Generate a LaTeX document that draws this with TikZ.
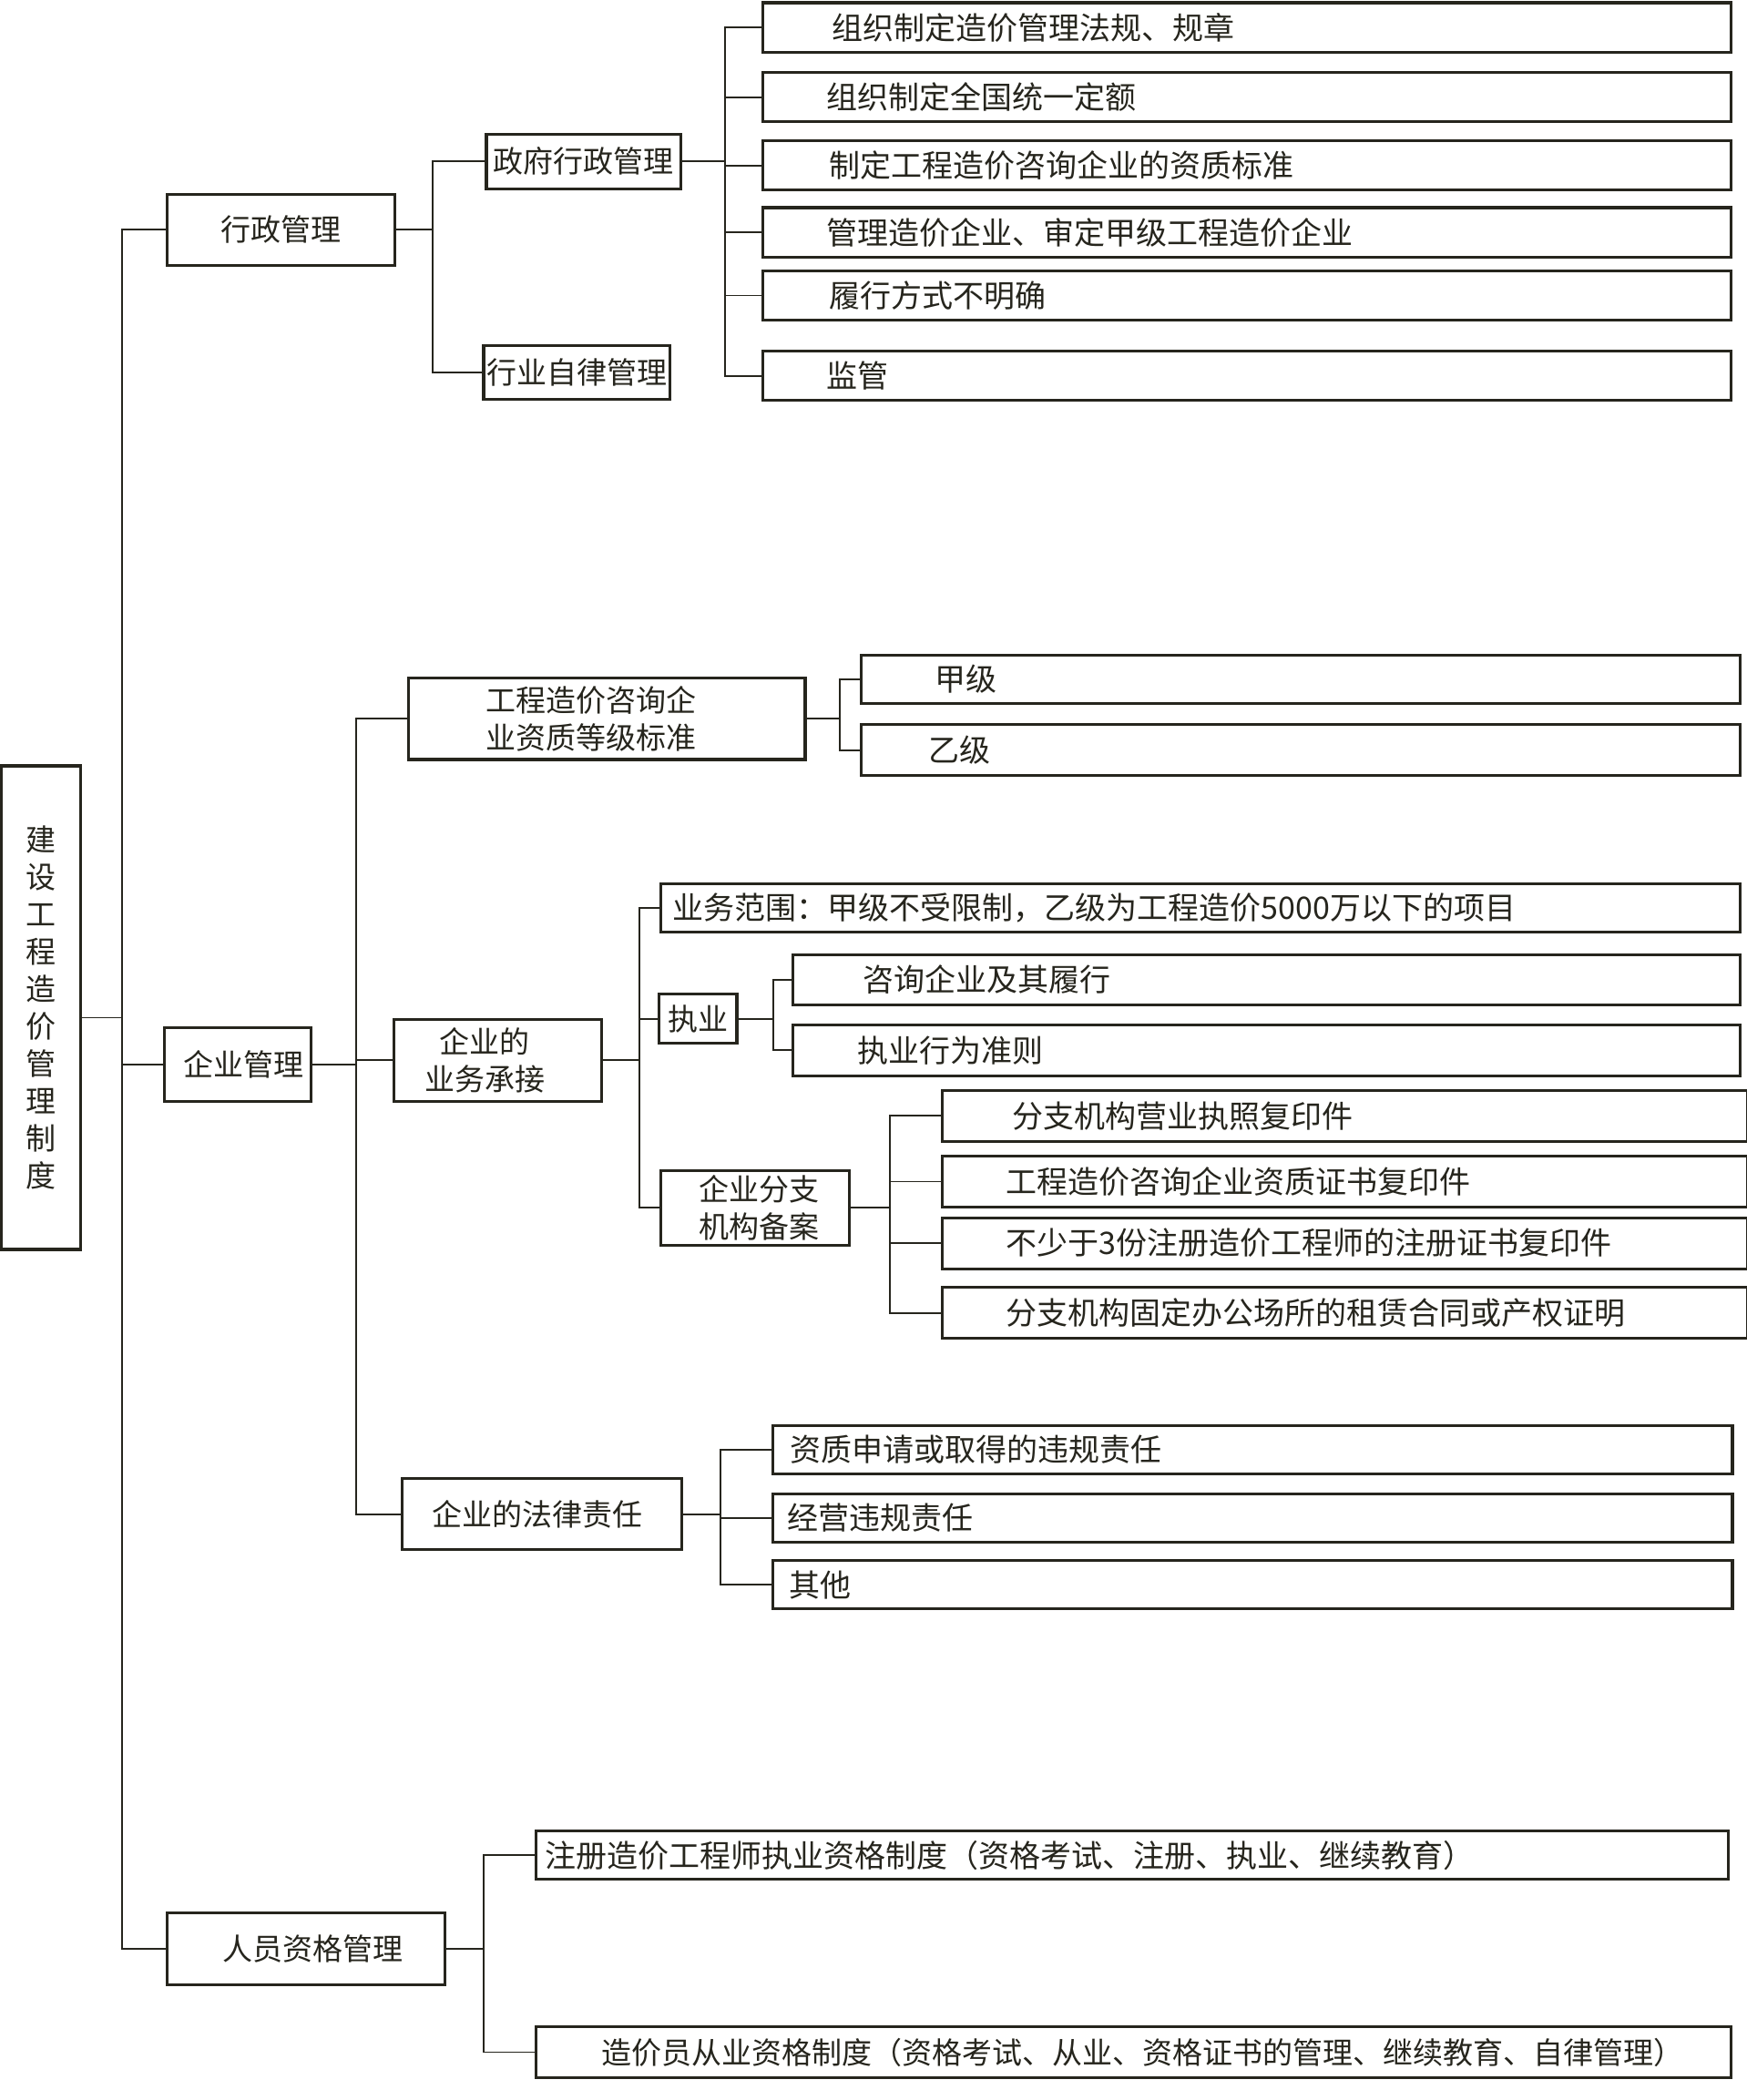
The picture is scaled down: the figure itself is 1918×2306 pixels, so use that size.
\documentclass[tikz,border=0pt]{standalone}
\usepackage{fontspec}
\setmainfont{Noto Sans CJK SC}
\definecolor{ink}{HTML}{26251D}
\tikzset{
  box/.style={draw=ink, line width=3.1pt, text=ink, inner xsep=0pt, inner ysep=0pt,
              font=\fontsize{33}{41}\selectfont},
  leaffont/.style={font=\fontsize{34}{41}\selectfont},
  conn/.style={draw=ink, line width=1.8pt},
}
% left-aligned box: [font style] name, x1, y1, x2, y2, text-start x, text
\newcommand\lbox[8][leaffont]{%
  \pgfmathsetmacro\bxw{#5-#3}\pgfmathsetmacro\bxh{#6-#4}\pgfmathsetmacro\bxp{#7-#3}%
  \node[box, #1, anchor=north west, minimum width=\bxw pt, minimum height=\bxh pt] (#2) at (#3,#4)
    {\makebox[\bxw pt][l]{\hspace*{\bxp pt}#8}};}
% centred box: [x offset of text] name, x1, y1, x2, y2, text
\newcommand\cbox[7][0]{%
  \pgfmathsetmacro\bxw{#5-#3}\pgfmathsetmacro\bxh{#6-#4}%
  \pgfmathsetmacro\bxcx{(#3+#5)/2}\pgfmathsetmacro\bxcy{(#4+#6)/2}\pgfmathsetmacro\bxs{2*#1}%
  \node[box, minimum width=\bxw pt, minimum height=\bxh pt] (#2) at (\bxcx,\bxcy)
    {\makebox[\bxw pt]{\hspace*{\bxs pt}\raisebox{-4.3pt}[\height][\depth]{\begin{tabular}{@{}c@{}}#7\end{tabular}}}};}
\begin{document}
\begin{tikzpicture}[x=1pt,y=-1pt]
\fill[white] (0,0) rectangle (1918,2306);
\useasboundingbox (0,0) rectangle (1918,2306);

% root
\cbox{root}{1.5}{841}{88.3}{1372}{建\\设\\工\\程\\造\\价\\管\\理\\制\\度}

% level 1
\cbox{xz}{183.9}{213.3}{433.9}{291.2}{行政管理}
\cbox[6]{qy}{180.9}{1128.2}{341.2}{1209.1}{企业管理}
\cbox[7]{ry}{183.9}{2100.4}{488.3}{2179.9}{人员资格管理}

% under 行政管理
\cbox{zf}{534}{147.1}{747.2}{207.4}{政府行政管理}
\cbox{hy}{531}{379.5}{735.4}{438.3}{行业自律管理}
\lbox{g1}{835.5}{1.5}{1898.9}{55.9}{912}{组织制定造价管理法规、规章}
\lbox{g2}{835.5}{78}{1898.9}{132.4}{906}{组织制定全国统一定额}
\lbox{g3}{835.5}{153}{1898.9}{207.4}{909}{制定工程造价咨询企业的资质标准}
\lbox{g4}{835.5}{226.5}{1898.9}{280.9}{906}{管理造价企业、审定甲级工程造价企业}
\lbox{g5}{835.5}{295.7}{1898.9}{350.1}{909}{履行方式不明确}
\lbox{g6}{835.5}{383.9}{1898.9}{438.3}{906}{监管}

% under 企业管理
\cbox[-17]{zz}{448.6}{744.3}{884}{834}{工程造价咨询企\\业资质等级标准}
\lbox{jj}{944.3}{717.8}{1909.2}{770.7}{1025}{甲级}
\lbox{yj}{944.3}{794.3}{1909.2}{850.2}{1018}{乙级}

\cbox[-14]{yw}{432.4}{1119.4}{660.4}{1209.1}{企业的\\业务承接}
\lbox{fw}{723.7}{969.3}{1909.2}{1022.3}{737}{业务范围：甲级不受限制，乙级为工程造价5000万以下的项目}
\cbox{zy}{723.7}{1091.4}{809}{1145.8}{执业}
\lbox{zy1}{869.3}{1047.3}{1909.2}{1101.7}{946}{咨询企业及其履行}
\lbox{zy2}{869.3}{1123.8}{1909.2}{1179.7}{940}{执业行为准则}
\cbox[5]{fz}{725.2}{1285.6}{932.5}{1366.5}{企业分支\\机构备案}
\lbox{fz1}{1032.6}{1195.8}{1916.6}{1251.7}{1110}{分支机构营业执照复印件}
\lbox{fz2}{1032.6}{1267.9}{1916.6}{1323.8}{1103}{工程造价咨询企业资质证书复印件}
\lbox{fz3}{1032.6}{1335.6}{1916.6}{1391.5}{1103}{不少于3份注册造价工程师的注册证书复印件}
\lbox{fz4}{1032.6}{1412.1}{1916.6}{1468}{1103}{分支机构固定办公场所的租赁合同或产权证明}

\cbox[-5]{fl}{441.3}{1623.9}{748.7}{1701.8}{企业的法律责任}
\lbox{fl1}{847.2}{1563.6}{1900.4}{1616.5}{866}{资质申请或取得的违规责任}
\lbox{fl2}{847.2}{1638.6}{1900.4}{1691.5}{863}{经营违规责任}
\lbox{fl3}{847.2}{1712.1}{1900.4}{1765.1}{865}{其他}

% under 人员资格管理
\lbox{r1}{586.9}{2009.3}{1896}{2062.2}{597}{注册造价工程师执业资格制度（资格考试、注册、执业、继续教育）}
\lbox[box]{r2}{586.9}{2224}{1898.9}{2279.9}{659}{造价员从业资格制度（资格考试、从业、资格证书的管理、继续教育、自律管理）}

% bus coordinates
\coordinate (b0) at (133.9,0);
\coordinate (b1) at (475.1,0);
\coordinate (b2) at (795.8,0);
\coordinate (b3) at (391.3,0);
\coordinate (b4) at (922.3,0);
\coordinate (b5) at (701.6,0);
\coordinate (b6) at (848.7,0);
\coordinate (b7) at (976.7,0);
\coordinate (b8) at (791.3,0);
\coordinate (b9) at (531,0);
\coordinate (rootout) at ([yshift=-11pt]root.east);

% connectors
\foreach \c in {xz,qy,ry} \draw[conn] (rootout) -- (rootout -| b0) |- (\c.west);
\foreach \c in {zf,hy} \draw[conn] (xz.east) -- (xz.east -| b1) |- (\c.west);
\foreach \c in {g1,g2,g3,g4,g5,g6} \draw[conn] (zf.east) -- (zf.east -| b2) |- (\c.west);
\foreach \c in {zz,yw,fl} \draw[conn] (qy.east) -- (qy.east -| b3) |- (\c.west);
\foreach \c in {jj,yj} \draw[conn] (zz.east) -- (zz.east -| b4) |- (\c.west);
\foreach \c in {fw,zy,fz} \draw[conn] (yw.east) -- (yw.east -| b5) |- (\c.west);
\foreach \c in {zy1,zy2} \draw[conn] (zy.east) -- (zy.east -| b6) |- (\c.west);
\foreach \c in {fz1,fz2,fz3,fz4} \draw[conn] (fz.east) -- (fz.east -| b7) |- (\c.west);
\foreach \c in {fl1,fl2,fl3} \draw[conn] (fl.east) -- (fl.east -| b8) |- (\c.west);
\foreach \c in {r1,r2} \draw[conn] (ry.east) -- (ry.east -| b9) |- (\c.west);
\end{tikzpicture}
\end{document}
